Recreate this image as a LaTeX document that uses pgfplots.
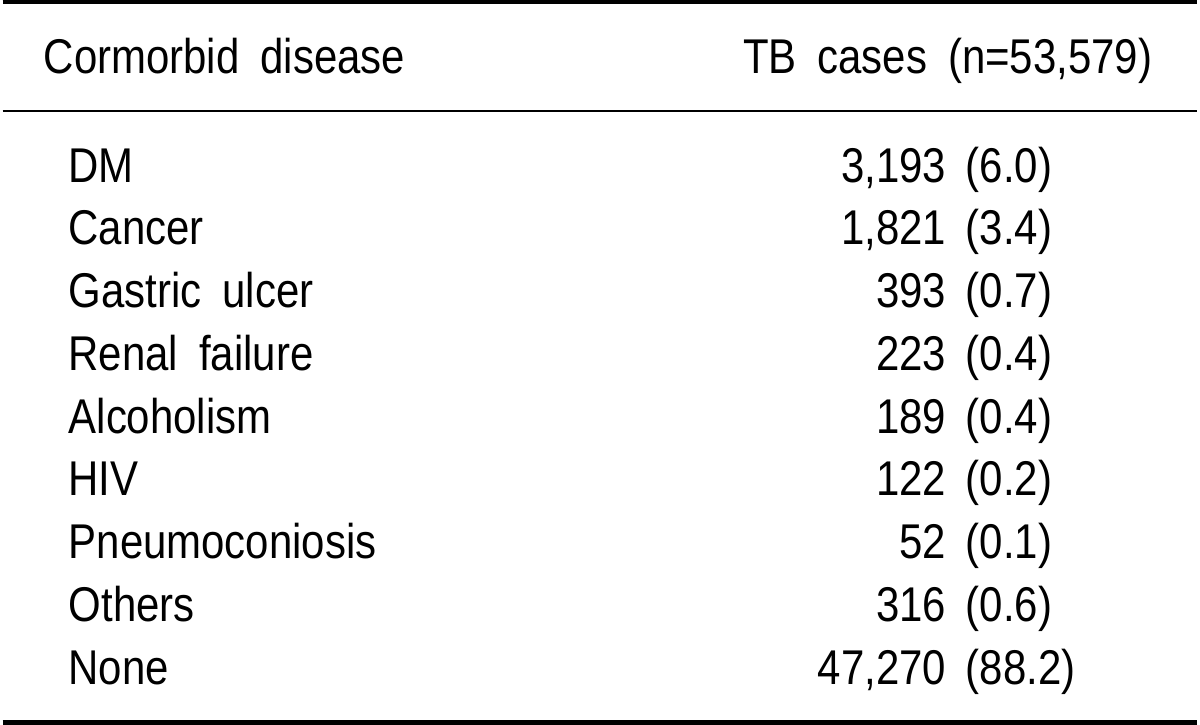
\documentclass[border=0pt]{standalone}
\usepackage{fontspec}
\setmainfont[FakeStretch=0.86]{Liberation Sans}
\usepackage{pgfplots}
\pgfplotsset{compat=1.18}
\usepackage{pgfplotstable}
\newcommand\tabfont{\fontsize{24.5}{29}\selectfont\spaceskip=10.5pt\relax}

\pgfplotstableread[col sep=semicolon,row sep=\\]{
x;y;label\\
41;74;Cormorbid disease\\
66;183;DM\\
66;246;Cancer\\
66;309;Gastric ulcer\\
66;372;Renal failure\\
66;435;Alcoholism\\
66;498;HIV\\
66;561;Pneumoconiosis\\
66;624;Others\\
66;687;None\\
}\leftlabels

\pgfplotstableread[col sep=semicolon,row sep=\\]{
x;y;label\\
1155;74;TB cases (n=53,579)\\
948;183;3,193\\
948;246;1,821\\
948;309;393\\
948;372;223\\
948;435;189\\
948;498;122\\
948;561;52\\
948;624;316\\
948;687;47,270\\
}\counts

\pgfplotstableread[col sep=semicolon,row sep=\\]{
x;y;label\\
967;183;(6.0)\\
967;246;(3.4)\\
967;309;(0.7)\\
967;372;(0.4)\\
967;435;(0.4)\\
967;498;(0.2)\\
967;561;(0.1)\\
967;624;(0.6)\\
967;687;(88.2)\\
}\pcts

\begin{document}
\begin{tikzpicture}
\begin{axis}[
  width=600pt, height=364pt, scale only axis,
  xmin=0, xmax=1200, ymin=0, ymax=728, y dir=reverse,
  hide axis, clip=false,
]
\addplot[draw=none, mark=none, forget plot] coordinates {(0,0) (1200,728)};
% rules
\addplot[black, line width=2.15pt, mark=none] coordinates {(0,2.15) (1200,2.15)};
\addplot[black, line width=1.2pt, mark=none] coordinates {(0,111.5) (1200,111.5)};
\addplot[black, line width=2.6pt, mark=none] coordinates {(0,725.4) (1200,725.4)};
% text columns
\addplot[draw=none, mark=none, nodes near coords, point meta=explicit symbolic,
  nodes near coords style={anchor=base west, inner sep=0pt, text=black, font=\tabfont}]
  table[x=x, y=y, meta=label] {\leftlabels};
\addplot[draw=none, mark=none, nodes near coords, point meta=explicit symbolic,
  nodes near coords style={anchor=base east, inner sep=0pt, text=black, font=\tabfont}]
  table[x=x, y=y, meta=label] {\counts};
\addplot[draw=none, mark=none, nodes near coords, point meta=explicit symbolic,
  nodes near coords style={anchor=base west, inner sep=0pt, text=black, font=\tabfont}]
  table[x=x, y=y, meta=label] {\pcts};
\end{axis}
\end{tikzpicture}
\end{document}
